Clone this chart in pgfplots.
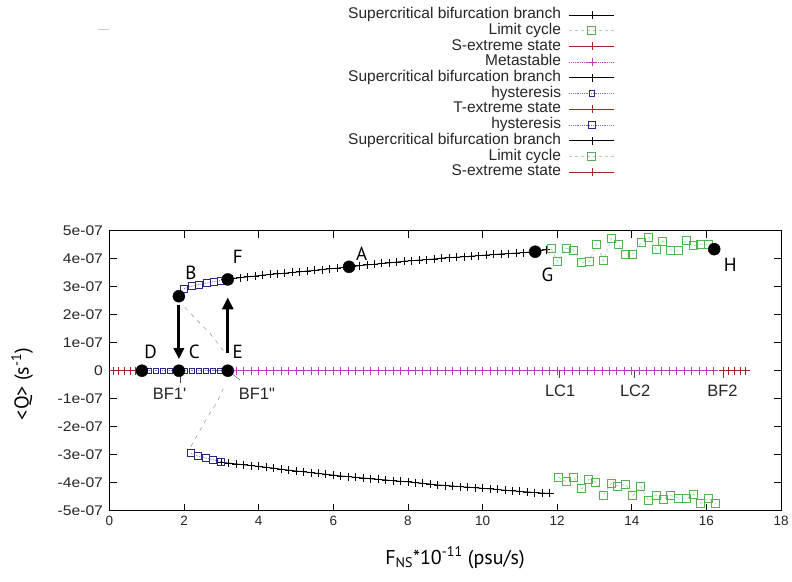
\documentclass[border=0pt]{standalone}
\usepackage{pgfplots}
\pgfplotsset{compat=1.18}
\usepackage{fontspec}
\setmainfont{Liberation Sans}
\newfontfamily\tickfont[FakeStretch=1.12]{Liberation Sans}
\newfontfamily\labfont{PT Sans}
\usetikzlibrary{arrows.meta}

\definecolor{redc}{RGB}{170,35,35}
\definecolor{magc}{RGB}{190,60,190}
\definecolor{lcg}{RGB}{80,180,80}
\definecolor{lcl}{RGB}{165,222,165}
\definecolor{hyd}{RGB}{40,40,130}
\definecolor{hyl}{RGB}{120,120,190}

\pgfplotsset{
  sup/.style={black, line width=0.8pt, mark=+, mark size=4pt},
  lc/.style={lcl, dashed, line width=0.8pt, mark=square, mark size=4pt,
    mark options={solid, draw=lcg, line width=1pt}},
  sext/.style={redc, line width=0.8pt, mark=+, mark size=4pt},
  meta/.style={magc, densely dotted, line width=0.8pt, mark=+, mark size=4pt, mark options={solid}},
  hyst/.style={hyl, densely dotted, line width=0.8pt, mark=square, mark size=3.5pt,
    mark options={solid, draw=hyd, line width=0.9pt}},
}

\begin{document}
\begin{tikzpicture}
\useasboundingbox (0pt,0pt) rectangle (792pt,581pt);
\begin{axis}[
  at={(109.5pt,70.3pt)}, anchor=south west,
  scale only axis, width=671.5pt, height=280pt,
  xmin=0, xmax=18, ymin=-5, ymax=5,
  xtick={0,2,...,18}, xticklabels={0,2,4,6,8,10,12,14,16,18},
  ytick={-5,-4,...,5},
  yticklabels={-5e-07,-4e-07,-3e-07,-2e-07,-1e-07,0,1e-07,2e-07,3e-07,4e-07,5e-07},
  tick align=inside, tick pos=both, major tick length=7pt,
  tick style={black, line width=0.8pt},
  axis line style={line width=0.9pt},
  xticklabel style={font=\fontsize{13.5}{15}\selectfont, text=black!85, yshift=-2pt},
  yticklabel style={font=\tickfont\fontsize{14}{15}\selectfont, text=black!85, xshift=-3pt},
  legend style={at={(axis description cs:0.7573,1.804)}, anchor=north east,
    draw=none, fill=none, font=\fontsize{15.5}{16}\selectfont, text=black!85,
    column sep=8pt, row sep=1.2pt,
    nodes={inner sep=0pt, text height=11pt, text depth=3.5pt}},
  legend cell align=right, legend plot pos=right,
  legend image code/.code={\draw[mark repeat=2,mark phase=2,#1]
    plot coordinates {(0pt,0pt) (22.5pt,0pt) (45pt,0pt)};},
]
% 1 upper supercritical branch
\addplot[sup] coordinates {
(3.1,3.26) (3.3,3.29) (3.5,3.32) (3.7,3.35) (3.9,3.38) (4.1,3.41) (4.3,3.44) (4.5,3.46)
(4.7,3.48) (4.9,3.51) (5.1,3.53) (5.3,3.56) (5.5,3.58) (5.7,3.61) (5.9,3.64) (6.1,3.66)
(6.3,3.70) (6.5,3.72) (6.7,3.75) (6.9,3.78) (7.1,3.80) (7.3,3.83) (7.5,3.85) (7.7,3.88)
(7.9,3.91) (8.1,3.93) (8.3,3.95) (8.5,3.97) (8.7,3.99) (8.9,4.02) (9.1,4.04) (9.3,4.05)
(9.5,4.07) (9.7,4.09) (9.9,4.11) (10.1,4.13) (10.3,4.15) (10.5,4.17) (10.7,4.18) (10.9,4.20)
(11.1,4.22) (11.3,4.24) (11.5,4.28) (11.7,4.32)};
\addlegendentry{Supercritical bifurcation branch}
% 2 upper limit cycle
\addplot[lc] coordinates {
(11.84,4.35) (12.02,3.89) (12.24,4.37) (12.45,4.31) (12.64,3.86) (12.86,3.89) (13.06,4.52)
(13.24,3.92) (13.45,4.73) (13.65,4.49) (13.83,4.16) (14.03,4.16) (14.25,4.57) (14.46,4.76)
(14.65,4.34) (14.83,4.63) (15.05,4.31) (15.26,4.31) (15.46,4.64) (15.66,4.46) (15.85,4.52)
(16.06,4.49)};
\addlegendentry{Limit cycle}
% 3 S-extreme (left)
\addplot[sext] coordinates {(0.1,0) (0.25,0) (0.4,0) (0.55,0) (0.7,0) (0.87,0)};
\addlegendentry{S-extreme state}
% 4 metastable
\addplot[meta] coordinates {
(3.17,0) (3.4,0) (3.6,0) (3.8,0) (4.0,0) (4.2,0) (4.4,0) (4.6,0) (4.8,0) (5.0,0)
(5.2,0) (5.4,0) (5.6,0) (5.8,0) (6.0,0) (6.2,0) (6.4,0) (6.6,0) (6.8,0) (7.0,0)
(7.2,0) (7.4,0) (7.6,0) (7.8,0) (8.0,0) (8.2,0) (8.4,0) (8.6,0) (8.8,0) (9.0,0)
(9.2,0) (9.4,0) (9.6,0) (9.8,0) (10.0,0) (10.2,0) (10.4,0) (10.6,0) (10.8,0) (11.0,0)
(11.2,0) (11.4,0) (11.6,0) (11.8,0) (12.0,0) (12.2,0) (12.4,0) (12.6,0) (12.8,0) (13.0,0)
(13.2,0) (13.4,0) (13.6,0) (13.8,0) (14.0,0) (14.2,0) (14.4,0) (14.6,0) (14.8,0) (15.0,0)
(15.2,0) (15.4,0) (15.6,0) (15.8,0) (16.0,0) (16.2,0) (16.45,0)};
\addlegendentry{Metastable}
% 5 lower supercritical branch (first part)
\addplot[sup] coordinates {
(3.0,-3.27) (3.2,-3.30) (3.4,-3.33) (3.6,-3.36) (3.8,-3.39) (4.0,-3.42) (4.2,-3.45)
(4.4,-3.48) (4.6,-3.52) (4.8,-3.55) (5.0,-3.58) (5.2,-3.61) (5.4,-3.64) (5.6,-3.67)
(5.8,-3.70) (6.0,-3.73) (6.2,-3.76) (6.4,-3.78) (6.6,-3.81) (6.8,-3.83) (7.0,-3.86)};
\addlegendentry{Supercritical bifurcation branch}
% 6 hysteresis on the zero line
\addplot[hyst, mark size=2.6pt] coordinates {
(0.87,0) (1.06,0) (1.25,0) (1.44,0) (1.63,0) (1.82,0) (2.01,0) (2.2,0) (2.39,0)
(2.58,0) (2.77,0) (2.96,0) (3.15,0)};
\addlegendentry{hysteresis}
% 7 T-extreme
\addplot[sext] coordinates {(16.45,0) (16.6,0) (16.75,0)};
\addlegendentry{T-extreme state}
% 8 upper hysteresis
\addplot[hyst] coordinates {(2.0,2.93) (2.2,3.02) (2.4,3.08) (2.6,3.13) (2.8,3.18) (3.0,3.22)};
\addlegendentry{hysteresis}
% 9 lower supercritical branch (second part)
\addplot[sup] coordinates {
(7.0,-3.86) (7.2,-3.88) (7.4,-3.90) (7.6,-3.93) (7.8,-3.95) (8.0,-3.97) (8.2,-4.00)
(8.4,-4.02) (8.6,-4.05) (8.8,-4.08) (9.0,-4.10) (9.2,-4.12) (9.4,-4.14) (9.6,-4.16)
(9.8,-4.18) (10.0,-4.20) (10.2,-4.22) (10.4,-4.24) (10.6,-4.27) (10.8,-4.29) (11.0,-4.31)
(11.2,-4.33) (11.4,-4.35) (11.6,-4.37) (11.8,-4.38)};
\addlegendentry{Supercritical bifurcation branch}
% 10 lower limit cycle
\addplot[lc] coordinates {
(12.03,-3.81) (12.24,-3.96) (12.45,-3.82) (12.66,-4.22) (12.85,-3.88) (13.04,-3.99)
(13.24,-4.44) (13.45,-4.02) (13.63,-4.12) (13.84,-4.06) (14.03,-4.46) (14.24,-4.14)
(14.45,-4.65) (14.65,-4.44) (14.86,-4.59) (15.05,-4.46) (15.25,-4.56) (15.46,-4.58)
(15.66,-4.41) (15.85,-4.74) (16.05,-4.56) (16.25,-4.74)};
\addlegendentry{Limit cycle}
% 11 S-extreme (right)
\addplot[sext] coordinates {(16.75,0) (16.9,0) (17.05,0)};
\addlegendentry{S-extreme state}
% lower hysteresis
\addplot[hyst, forget plot] coordinates {(2.18,-2.95) (2.38,-3.05) (2.58,-3.12) (2.78,-3.18) (2.98,-3.25)};
% unstable branches (dashed)
\addplot[gray, thin, dash pattern=on 4pt off 5pt, forget plot] coordinates {
(2.02,2.26) (2.34,1.81) (2.69,1.34) (2.92,0.95) (3.1,0.62)};
\addplot[gray, thin, dash pattern=on 4pt off 5pt, forget plot] coordinates {
(2.18,-2.71) (2.43,-2.12) (2.69,-1.52) (2.87,-1.16) (3.05,-0.63)};
% pointers to the bifurcation labels
\addplot[black!70, thin, forget plot] coordinates {(3.17,0) (3.5,-0.33)};
\addplot[black!70, thin, forget plot] coordinates {(1.89,-0.2) (1.89,-0.45)};
\addplot[black!70, thin, forget plot] coordinates {(12.05,0) (12.05,-0.25)};
\addplot[black!70, thin, forget plot] coordinates {(14.07,0) (14.07,-0.25)};
\addplot[black!70, thin, forget plot] coordinates {(16.45,0) (16.45,-0.25)};
% marked states
\addplot[only marks, mark=*, mark size=6pt, black, forget plot] coordinates {
(0.87,0) (1.86,0) (3.17,0) (1.86,2.66) (3.17,3.26) (6.42,3.71) (11.41,4.25) (16.21,4.34)};
% jumps
\draw[-{Triangle[length=11pt,width=10pt]}, line width=2.8pt] (axis cs:1.86,2.35) -- (axis cs:1.86,0.41);
\draw[-{Triangle[length=12pt,width=11pt]}, line width=2.8pt] (axis cs:3.17,0.62) -- (axis cs:3.17,2.62);
% letters
\begin{scope}[every node/.style={font=\labfont\fontsize{19}{19}\selectfont}]
\node at (axis cs:6.76,4.19) {A};
\node at (axis cs:2.18,3.51) {B};
\node at (axis cs:2.27,0.68) {C};
\node at (axis cs:1.1,0.68) {D};
\node at (axis cs:3.44,0.68) {E};
\node at (axis cs:3.44,4.07) {F};
\node at (axis cs:11.74,3.42) {G};
\node at (axis cs:16.64,3.77) {H};
\end{scope}
\begin{scope}[every node/.style={font=\fontsize{16.5}{17}\selectfont, text=black!85}]
\node at (axis cs:1.61,-0.83) {BF1\textquotesingle};
\node at (axis cs:3.95,-0.83) {BF1\textquotedbl};
\node at (axis cs:12.08,-0.73) {LC1};
\node at (axis cs:14.09,-0.73) {LC2};
\node at (axis cs:16.43,-0.72) {BF2};
\end{scope}
\end{axis}
\node[rotate=90, font=\labfont\fontsize{20}{20}\selectfont] at (22pt,197pt) {<Q> (s\textsuperscript{-1})};
\node[anchor=base, font=\labfont\fontsize{20}{20}\selectfont] at (455pt,17pt) {F\textsubscript{NS}*10\textsuperscript{-11} (psu/s)};
\draw[black!20, line width=1.5pt] (98pt,551.3pt) -- (109pt,551.3pt);
\end{tikzpicture}
\end{document}
